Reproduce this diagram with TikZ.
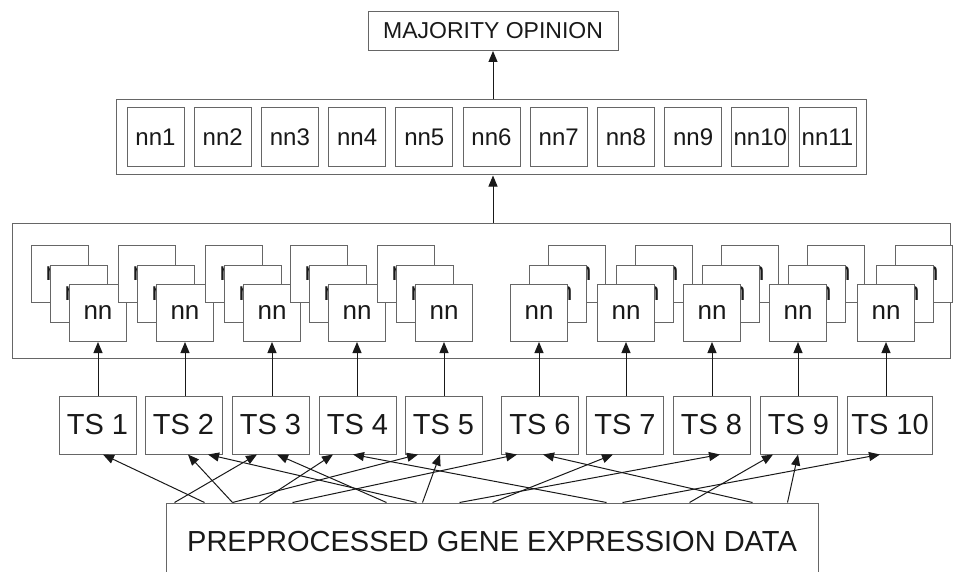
\documentclass[tikz,border=0pt]{standalone}
\usepackage{fontspec}
\setmainfont{Liberation Sans}
\usetikzlibrary{arrows.meta}
\begin{document}
\begin{tikzpicture}[x=1pt, y=-1pt,
  box/.style={rectangle, draw=black!60, line width=1pt, fill=white, text=black!90, inner sep=1pt},
  tsbox/.style={box, minimum width=77pt, minimum height=58pt, inner sep=4pt, font=\fontsize{29}{34}\selectfont},
  netbox/.style={box, minimum width=57pt, minimum height=57pt, font=\fontsize{26}{30}\selectfont},
  rowbox/.style={box, minimum width=57pt, minimum height=59pt, font=\fontsize{24}{28}\selectfont},
  arr/.style={-{Triangle[length=11pt, width=9pt]}, line width=1pt, draw=black!90}]
  \useasboundingbox (0,0) rectangle (960,572);
  % Top
  \node (maj) [box, minimum width=250pt, minimum height=39pt, font=\fontsize{23}{27}\selectfont] at (493,31) {MAJORITY OPINION};
  \node (row) [box, minimum width=750pt, minimum height=75pt] at (491,137.5) {};
  \node (nn-1) [rowbox] at (155.5,137.5) {nn1};
  \node (nn-2) [rowbox] at (222.7,137.5) {nn2};
  \node (nn-3) [rowbox] at (289.9,137.5) {nn3};
  \node (nn-4) [rowbox] at (357.1,137.5) {nn4};
  \node (nn-5) [rowbox] at (424.3,137.5) {nn5};
  \node (nn-6) [rowbox] at (491.5,137.5) {nn6};
  \node (nn-7) [rowbox] at (558.7,137.5) {nn7};
  \node (nn-8) [rowbox] at (625.9,137.5) {nn8};
  \node (nn-9) [rowbox] at (693.1,137.5) {nn9};
  \node (nn-10) [rowbox] at (760.3,137.5) {nn10};
  \node (nn-11) [rowbox] at (827.5,137.5) {nn11};
  % Stacks
  \node (pool) [box, minimum width=938pt, minimum height=135pt] at (481,290.5) {};
  \node (b-1) [netbox] at (60,274) {nn}; \node (m-1) [netbox] at (79,293.5) {nn}; \node (f-1) [netbox] at (98,313) {nn};
  \node (b-2) [netbox] at (147,274) {nn}; \node (m-2) [netbox] at (166,293.5) {nn}; \node (f-2) [netbox] at (185,313) {nn};
  \node (b-3) [netbox] at (234,274) {nn}; \node (m-3) [netbox] at (253,293.5) {nn}; \node (f-3) [netbox] at (272,313) {nn};
  \node (b-4) [netbox] at (319,274) {nn}; \node (m-4) [netbox] at (338,293.5) {nn}; \node (f-4) [netbox] at (357,313) {nn};
  \node (b-5) [netbox] at (406,274) {nn}; \node (m-5) [netbox] at (425,293.5) {nn}; \node (f-5) [netbox] at (444,313) {nn};
  \node (b-6) [netbox] at (577,274) {nn}; \node (m-6) [netbox] at (558,293.5) {nn}; \node (f-6) [netbox] at (539,313) {nn};
  \node (b-7) [netbox] at (664,274) {nn}; \node (m-7) [netbox] at (645,293.5) {nn}; \node (f-7) [netbox] at (626,313) {nn};
  \node (b-8) [netbox] at (750,274) {nn}; \node (m-8) [netbox] at (731,293.5) {nn}; \node (f-8) [netbox] at (712,313) {nn};
  \node (b-9) [netbox] at (836,274) {nn}; \node (m-9) [netbox] at (817,293.5) {nn}; \node (f-9) [netbox] at (798,313) {nn};
  \node (b-10) [netbox] at (924,274) {nn}; \node (m-10) [netbox] at (905,293.5) {nn}; \node (f-10) [netbox] at (886,313) {nn};
  % Training sets
  \node (ts-1) [tsbox] at (97.5,425) {TS 1};
  \node (ts-2) [tsbox] at (183.5,425) {TS 2};
  \node (ts-3) [tsbox] at (270.5,425) {TS 3};
  \node (ts-4) [tsbox] at (357.5,425) {TS 4};
  \node (ts-5) [tsbox] at (443.5,425) {TS 5};
  \node (ts-6) [tsbox] at (540,425) {TS 6};
  \node (ts-7) [tsbox] at (625,425) {TS 7};
  \node (ts-8) [tsbox] at (711.5,425) {TS 8};
  \node (ts-9) [tsbox] at (798.5,425) {TS 9};
  \node (ts-10) [tsbox] at (890,425) {TS 10};
  \node (data) [box, minimum width=652pt, minimum height=78pt, font=\fontsize{29}{34}\selectfont] at (492,542) {PREPROCESSED GENE EXPRESSION DATA};
  % Arrows
  \draw[arr] (row.north -| maj) -- (maj);
  \draw[arr] (pool.north -| maj) -- (row.south -| maj);
  \draw[arr] (f-1.south |- ts-1.north) -- (f-1.south);
  \draw[arr] (f-2.south |- ts-2.north) -- (f-2.south);
  \draw[arr] (f-3.south |- ts-3.north) -- (f-3.south);
  \draw[arr] (f-4.south |- ts-4.north) -- (f-4.south);
  \draw[arr] (f-5.south |- ts-5.north) -- (f-5.south);
  \draw[arr] (f-6.south |- ts-6.north) -- (f-6.south);
  \draw[arr] (f-7.south |- ts-7.north) -- (f-7.south);
  \draw[arr] (f-8.south |- ts-8.north) -- (f-8.south);
  \draw[arr] (f-9.south |- ts-9.north) -- (f-9.south);
  \draw[arr] (f-10.south |- ts-10.north) -- (f-10.south);
  \draw[arr] ([xshift=39pt]data.north west) -- ([xshift=5.5pt]ts-1.south);
  \draw[arr] ([xshift=67pt]data.north west) -- ([xshift=4.5pt]ts-2.south);
  \draw[arr] ([xshift=251pt]data.north west) -- ([xshift=24.5pt]ts-2.south);
  \draw[arr] ([xshift=9pt]data.north west) -- ([xshift=-13.5pt]ts-3.south);
  \draw[arr] ([xshift=221pt]data.north west) -- ([xshift=6.5pt]ts-3.south);
  \draw[arr] ([xshift=94pt]data.north west) -- ([xshift=-24.5pt]ts-4.south);
  \draw[arr] ([xshift=441pt]data.north west) -- ([xshift=-4.5pt]ts-4.south);
  \draw[arr] ([xshift=67pt]data.north west) -- ([xshift=-25.5pt]ts-5.south);
  \draw[arr] ([xshift=257pt]data.north west) -- ([xshift=-3.5pt]ts-5.south);
  \draw[arr] ([xshift=127pt]data.north west) -- ([xshift=-23pt]ts-6.south);
  \draw[arr] ([xshift=587pt]data.north west) -- ([xshift=3pt]ts-6.south);
  \draw[arr] ([xshift=327pt]data.north west) -- ([xshift=-12pt]ts-7.south);
  \draw[arr] ([xshift=294pt]data.north west) -- ([xshift=8.5pt]ts-8.south);
  \draw[arr] ([xshift=524pt]data.north west) -- ([xshift=-25.5pt]ts-9.south);
  \draw[arr] ([xshift=622pt]data.north west) -- ([xshift=-0.5pt]ts-9.south);
  \draw[arr] ([xshift=457pt]data.north west) -- ([xshift=-10pt]ts-10.south);
\end{tikzpicture}
\end{document}
